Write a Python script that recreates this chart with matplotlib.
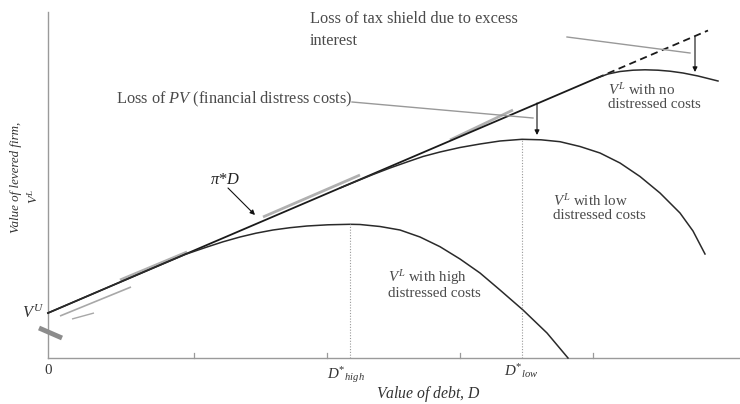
import matplotlib
matplotlib.use("Agg")
import matplotlib.pyplot as plt

plt.rcParams['font.family'] = ['Liberation Serif', 'DejaVu Serif']
plt.rcParams['mathtext.fontset'] = 'custom'
plt.rcParams['mathtext.rm'] = 'Liberation Serif'
plt.rcParams['mathtext.it'] = 'Liberation Serif:italic'
plt.rcParams['mathtext.bf'] = 'Liberation Serif:bold'

# ---- data (D = value of debt, V = value of levered firm; arbitrary units) ----
V_U = 45
tangent_D = [0, 549]
tangent_V = [45, 280]
dashed_D = [549, 660]
dashed_V = [280, 327.5]

nodist_D = [549, 560, 572, 585, 597, 610, 622, 635, 650, 670]
nodist_V = [280, 284, 286.5, 287.8, 288.2, 287.8, 286.8, 285, 282, 277]

low_D = [292, 325, 342, 359, 375, 392, 412, 432, 452, 474, 493, 512, 532, 552, 572, 592, 612, 632, 645, 657]
low_V = [170, 183.5, 190, 196, 201.5, 206, 210.5, 214, 217, 218.7, 218.2, 216.3, 211.5, 205, 195, 181.5, 165, 145, 127, 104]

high_D = [0, 102, 137, 159, 175, 192, 208, 225, 242, 259, 280, 302, 312, 332, 352, 372, 392, 412, 432, 452, 475, 499, 520]
high_V = [45, 88.7, 103.5, 111, 116.2, 121, 124.8, 128, 130.3, 132, 133.2, 133.7, 133.5, 131.5, 128, 121, 111.3, 99, 85, 68, 48, 25, 0]

D_high_star = 302
D_low_star = 474
tick_D = [146, 279, 412, 545]

# scanned highlight artefacts (decorative strokes)
hl_segments = [
    ([72, 139], [78, 106], '#b0b0b0', 2.0),
    ([215, 312], [141, 183], '#b0b0b0', 2.0),
    ([402, 465], [218, 248], '#b0b0b0', 2.0),
    ([12, 83], [42, 71], '#a8a8a8', 1.2),
    ([24, 46], [39, 45], '#a8a8a8', 1.0),
    ([-9, 14], [30, 20], '#8c8c8c', 3.5),
]

fig = plt.figure(figsize=(7.4, 4.04), dpi=100)
ax = fig.add_axes([0, 0, 1, 1])
ax.set_xlim(-48, 692)
ax.set_ylim(-46, 358)
ax.axis('off')

axis_col = '#9a9a9a'
ax.plot([0, 0], [0, 346], color=axis_col, lw=1.0)
ax.plot([0, 692], [0, 0], color=axis_col, lw=1.0)
for t in tick_D:
    ax.plot([t, t], [0, 5], color=axis_col, lw=0.9)

for xs, ys, c, w in hl_segments:
    ax.plot(xs, ys, color=c, lw=w, solid_capstyle='butt')

ax.plot(tangent_D, tangent_V, color='#1a1a1a', lw=1.3)
ax.plot(dashed_D, dashed_V, color='#1a1a1a', lw=1.3, ls=(0, (4, 2.5)))
ax.plot(nodist_D, nodist_V, color='#2a2a2a', lw=1.1)
ax.plot(low_D, low_V, color='#2a2a2a', lw=1.1)
ax.plot(high_D, high_V, color='#2a2a2a', lw=1.1)

ax.plot([D_high_star, D_high_star], [0, 133.7], color='#999999', lw=0.8, ls=(0, (1, 1.5)))
ax.plot([D_low_star, D_low_star], [0, 218.7], color='#999999', lw=0.8, ls=(0, (1, 1.5)))

# leader lines
ax.plot([519, 642], [321, 305], color='#999999', lw=1.0)
ax.plot([304, 485], [256, 240], color='#999999', lw=1.0)

arrow_kw = dict(arrowstyle='-|>', color='#111111', lw=0.8, mutation_scale=7, shrinkA=0, shrinkB=0)
ax.annotate('', xy=(647, 286), xytext=(647, 321), arrowprops=arrow_kw)
ax.annotate('', xy=(489, 223), xytext=(489, 255), arrowprops=arrow_kw)
ax.annotate('', xy=(207, 143), xytext=(180, 170), arrowprops=arrow_kw)

tc = '#4a4a4a'
fs_big = 11.8
fs = 10.8
ax.text(262, 328, 'Loss of tax shield due to excess\ninterest', color=tc, fontsize=fs_big,
        ha='left', va='center', linespacing=1.5)
ax.text(68, 259, 'Loss of $PV$ (financial distress costs)', color=tc, fontsize=fs_big,
        ha='left', va='center')
ax.text(162, 178, r'$\pi$*$D$', color='#222222', fontsize=fs_big, ha='left', va='center')
ax.text(560, 261, '$V^L$ with no\ndistressed costs', color=tc, fontsize=fs,
        ha='left', va='center', linespacing=1.0)
ax.text(505, 150, '$V^L$ with low\ndistressed costs', color=tc, fontsize=fs,
        ha='left', va='center', linespacing=1.0)
ax.text(340, 74, '$V^L$ with high\ndistressed costs', color=tc, fontsize=fs,
        ha='left', va='center', linespacing=1.0)

ax.text(-4, V_U, '$V^U$', color='#333333', fontsize=fs_big, ha='right', va='center')
ax.text(0, -12, '0', color='#333333', fontsize=fs, ha='center', va='center')
ax.text(D_high_star - 4, -17, r'$D^{*}{}_{high}$', color='#333333', fontsize=fs, ha='center', va='center')
ax.text(D_low_star - 1, -13, r'$D^{*}{}_{low}$', color='#333333', fontsize=fs, ha='center', va='center')
ax.text(380, -36, 'Value of debt, $D$', color='#333333', fontsize=11.3, style='italic',
        ha='center', va='center')
ax.text(-32, 181, 'Value of levered firm,', color='#333333', fontsize=9.4, style='italic',
        rotation=90, ha='center', va='center')
ax.text(-15, 162, '$V^L$', color='#333333', fontsize=9.4, rotation=90, ha='center', va='center')

fig.savefig('out.png', dpi=100)
